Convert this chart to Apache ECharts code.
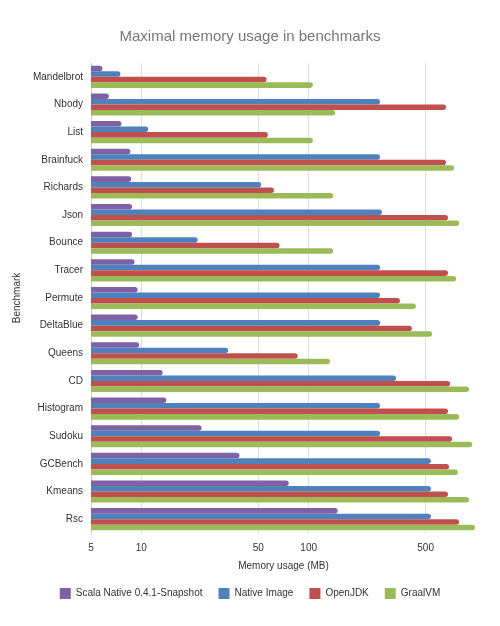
<!DOCTYPE html>
<html>
<head>
<meta charset="utf-8">
<script src="https://cdn.jsdelivr.net/npm/echarts@6/dist/echarts.min.js"></script>
<style>html,body{margin:0;padding:0;background:#fff}#chart{width:500px;height:626px}</style>
</head>
<body>
<div id="chart"></div>
<script>
var benchmarks = ['Mandelbrot', 'Nbody', 'List', 'Brainfuck', 'Richards', 'Json', 'Bounce', 'Tracer',
  'Permute', 'DeltaBlue', 'Queens', 'CD', 'Histogram', 'Sudoku', 'GCBench', 'Kmeans', 'Rsc'];
var scalaNative = [5.85, 6.4, 7.6, 8.6, 8.7, 8.8, 8.8, 9.1, 9.5, 9.5, 9.7, 13.4, 14.1, 22.9, 38.6, 76, 149];
var nativeImage = [7.5, 267, 11, 267, 52, 274, 21.7, 267, 267, 267, 33, 333, 267, 267, 538, 538, 538];
var openJDK = [56, 662, 57, 662, 62, 680, 67, 680, 351, 414, 86, 700, 680, 720, 690, 680, 793];
var graalVM = [106, 144, 106, 740, 140, 793, 140, 760, 437, 546, 134, 910, 793, 949, 780, 910, 986];
var tickValues = [5, 10, 50, 100, 500];

var chart = echarts.init(document.getElementById('chart'));
var font = 'Liberation Sans, Arial, sans-serif';

function bars(name, data, color) {
  return {
    name: name, type: 'bar', data: data, barGap: '0%', barCategoryGap: '20%',
    itemStyle: { color: color, borderRadius: [0, 3, 3, 0] }
  };
}

chart.setOption({
  animation: false,
  title: {
    text: 'Maximal memory usage in benchmarks', left: 'center', top: 24,
    textStyle: { color: '#777', fontSize: 15, fontWeight: 'normal', fontFamily: font }
  },
  legend: {
    bottom: 22, itemWidth: 11, itemHeight: 11, itemGap: 16, icon: 'rect',
    textStyle: { color: '#333', fontSize: 10, fontFamily: font }
  },
  grid: { left: 91, right: 24, top: 63, bottom: 93 },
  xAxis: {
    type: 'log', logBase: 10, min: 5, max: 1000,
    name: 'Memory usage (MB)', nameLocation: 'middle', nameGap: 28,
    nameTextStyle: { color: '#333', fontSize: 10, fontFamily: font },
    axisLine: { show: false },
    axisTick: { show: false, customValues: tickValues },
    axisLabel: { customValues: tickValues, color: '#333', fontSize: 10, fontFamily: font, margin: 10 },
    splitLine: { show: true, lineStyle: { color: '#ddd' } }
  },
  yAxis: {
    type: 'category', data: benchmarks, inverse: true,
    name: 'Benchmark', nameLocation: 'middle', nameGap: 55, nameRotate: 90,
    nameTextStyle: { color: '#333', fontSize: 10, fontFamily: font },
    axisLine: { lineStyle: { color: '#ccc' } },
    axisTick: { show: false },
    axisLabel: { color: '#333', fontSize: 10, fontFamily: font, margin: 8 }
  },
  series: [
    bars('Scala Native 0.4.1-Snapshot', scalaNative, '#7f62a6'),
    bars('Native Image', nativeImage, '#4f81bd'),
    bars('OpenJDK', openJDK, '#c0504d'),
    bars('GraalVM', graalVM, '#9bbb59')
  ]
});
</script>
</body>
</html>
